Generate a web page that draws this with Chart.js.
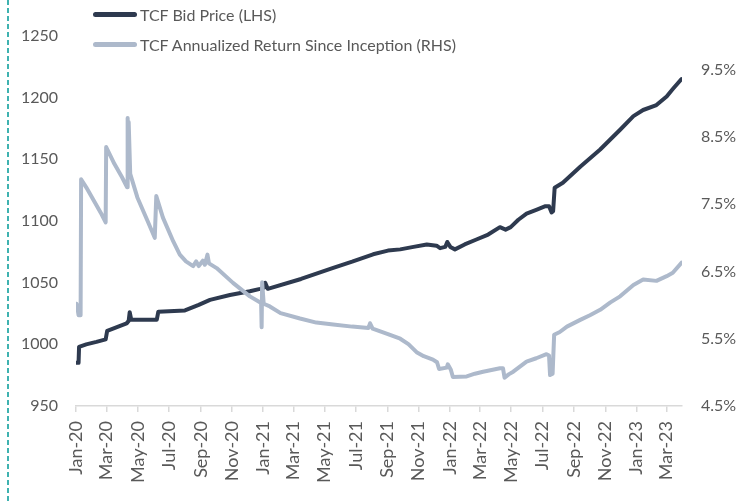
<!DOCTYPE html>
<html><head><meta charset="utf-8">
<script src="https://cdn.jsdelivr.net/npm/chart.js@4/dist/chart.umd.min.js"></script>
<style>
html,body{margin:0;padding:0;background:#fff;}
#wrap{position:relative;width:753px;height:502px;overflow:hidden;}
#c{position:absolute;left:0;top:0;}
.dash{position:absolute;left:7px;top:0;width:2px;height:502px;background:repeating-linear-gradient(to bottom,#3fb2b0 0 5px,transparent 5px 8px);}
.leg{position:absolute;left:93px;height:20px;font:16px Lato, sans-serif;color:#595959;display:flex;align-items:center;white-space:nowrap;}
.leg .sw{display:inline-block;width:44px;height:5px;border-radius:3px;margin-right:3px;}
</style></head>
<body><div id="wrap"><canvas id="c" width="753" height="502"></canvas><div class="dash"></div></div>
<script>
// ---- data ----
const seriesNames = ['TCF Bid Price (LHS)', 'TCF Annualized Return Since Inception (RHS)'];

const bidDates = ['2020-01-02','2020-01-06','2020-01-07','2020-01-21','2020-02-10','2020-02-28','2020-03-02','2020-03-21','2020-04-09','2020-04-13','2020-04-15','2020-04-18','2020-06-07','2020-06-10','2020-08-01','2020-08-28','2020-09-19','2020-10-28','2020-12-06','2020-12-26','2021-01-03','2021-01-05','2021-01-10','2021-03-16','2021-05-18','2021-06-24','2021-08-04','2021-09-02','2021-09-26','2021-10-22','2021-11-17','2021-12-06','2021-12-13','2021-12-23','2021-12-27','2022-01-02','2022-01-11','2022-01-30','2022-02-22','2022-03-17','2022-04-09','2022-04-20','2022-04-30','2022-05-15','2022-05-31','2022-06-19','2022-07-07','2022-07-14','2022-07-19','2022-07-22','2022-07-25','2022-08-10','2022-09-13','2022-10-22','2022-11-30','2022-12-26','2023-01-14','2023-02-09','2023-03-01','2023-03-13','2023-03-30'];
const bidPrices = [985,985,998,1000,1002,1004,1011,1014,1017,1019,1026,1020,1020,1026.5,1027.5,1032,1036,1040,1043,1045,1046,1050,1045,1053,1062,1067,1073,1076,1077,1079,1081,1080,1078,1079,1083,1079,1077,1081,1085,1089,1095,1093,1095,1101,1106,1109,1112,1112,1107,1108,1127,1131,1144,1158,1174,1185,1190,1194,1201,1207,1215];

const retDates = ['2020-01-02','2020-01-04','2020-01-06','2020-01-10','2020-01-11','2020-01-21','2020-02-05','2020-02-20','2020-02-28','2020-02-29','2020-03-16','2020-03-31','2020-04-10','2020-04-11','2020-04-12','2020-04-13','2020-04-16','2020-04-30','2020-05-20','2020-06-03','2020-06-06','2020-06-19','2020-07-09','2020-07-22','2020-08-03','2020-08-17','2020-08-23','2020-08-28','2020-09-05','2020-09-09','2020-09-14','2020-09-17','2020-10-02','2020-11-03','2020-12-06','2020-12-28','2020-12-29','2020-12-30','2021-01-02','2021-01-14','2021-02-04','2021-03-14','2021-04-15','2021-05-18','2021-06-24','2021-07-26','2021-07-29','2021-08-03','2021-09-02','2021-09-26','2021-10-12','2021-10-28','2021-11-11','2021-11-29','2021-12-07','2021-12-11','2021-12-26','2021-12-28','2022-01-03','2022-01-07','2022-02-03','2022-02-19','2022-03-07','2022-04-09','2022-04-15','2022-04-18','2022-04-26','2022-05-05','2022-05-31','2022-06-19','2022-07-09','2022-07-14','2022-07-16','2022-07-21','2022-07-24','2022-08-04','2022-08-18','2022-09-13','2022-10-02','2022-10-22','2022-11-11','2022-11-30','2022-12-26','2023-01-14','2023-02-09','2023-03-01','2023-03-13','2023-03-30'];
const retValues = [6.02,5.95,5.85,5.85,7.87,7.75,7.55,7.35,7.23,8.35,8.1,7.9,7.75,8.78,8.2,8.72,7.95,7.6,7.25,7.0,7.62,7.3,6.95,6.75,6.65,6.58,6.65,6.58,6.66,6.6,6.75,6.62,6.55,6.33,6.13,6.03,5.67,6.34,6.02,5.98,5.88,5.8,5.74,5.71,5.68,5.66,5.73,5.65,5.57,5.5,5.42,5.3,5.24,5.19,5.15,5.05,5.07,5.12,5.04,4.93,4.94,4.98,5.01,5.06,5.06,4.92,4.97,5.01,5.16,5.21,5.27,5.25,4.96,4.98,5.56,5.6,5.68,5.78,5.85,5.93,6.04,6.13,6.3,6.38,6.36,6.43,6.48,6.63];

const xTickDates = ['2020-01-01','2020-03-01','2020-05-01','2020-07-01','2020-09-01','2020-11-01','2021-01-01','2021-03-01','2021-05-01','2021-07-01','2021-09-01','2021-11-01','2022-01-01','2022-03-01','2022-05-01','2022-07-01','2022-09-01','2022-11-01','2023-01-01','2023-03-01'];
const xTickLabels = ['Jan-20','Mar-20','May-20','Jul-20','Sep-20','Nov-20','Jan-21','Mar-21','May-21','Jul-21','Sep-21','Nov-21','Jan-22','Mar-22','May-22','Jul-22','Sep-22','Nov-22','Jan-23','Mar-23'];
const leftTicks = [950,1000,1050,1100,1150,1200,1250];
const rightTicks = [4.5,5.5,6.5,7.5,8.5,9.5];
const xStart = '2020-01-01', xEnd = '2023-03-31';

// ---- helpers ----
function dayOf(s){const [y,m,d]=s.split('-').map(Number);return (Date.UTC(y,m-1,d)-Date.UTC(2020,0,1))/86400000;}
const bidData = bidDates.map((d,i)=>({x:dayOf(d), y:bidPrices[i]}));
const retData = retDates.map((d,i)=>({x:dayOf(d), y:retValues[i]}));

const colors = ['#2e3a4f', '#adb9cb'];
const FONT = 'Lato, sans-serif';
const TXT = '#595959';

// legend (HTML text)
const wrap = document.getElementById('wrap');
[4,34].forEach((top,i)=>{
  const el=document.createElement('div'); el.className='leg'; el.style.top=top+'px';
  const sw=document.createElement('span'); sw.className='sw'; sw.style.background=colors[i];
  el.appendChild(sw); el.appendChild(document.createTextNode(seriesNames[i]));
  wrap.appendChild(el);
});

new Chart(document.getElementById('c'), {
  type:'line',
  data:{datasets:[
    {label:seriesNames[0], data:bidData, yAxisID:'y', borderColor:colors[0], borderWidth:4, pointRadius:0, tension:0, borderJoinStyle:'round', borderCapStyle:'round', order:1},
    {label:seriesNames[1], data:retData, yAxisID:'y1', borderColor:colors[1], borderWidth:4, pointRadius:0, tension:0, borderJoinStyle:'round', borderCapStyle:'round', order:0}
  ]},
  options:{
    responsive:false, animation:false, devicePixelRatio:1,
    layout:{padding:{top:36,left:0,right:0,bottom:0}},
    plugins:{legend:{display:false}, tooltip:{enabled:false}},
    scales:{
      x:{type:'linear', min:dayOf(xStart), max:dayOf(xEnd),
        afterBuildTicks:s=>{s.ticks=xTickDates.map(d=>({value:dayOf(d)}));},
        afterFit:s=>{s.height=96;},
        ticks:{autoSkip:false, minRotation:90, maxRotation:90, padding:9, color:TXT, font:{family:FONT,size:18},
          callback:(v,i)=>xTickLabels[i]},
        grid:{drawOnChartArea:false, drawTicks:true, tickLength:6, color:'#d9d9d9', lineWidth:1.5},
        border:{display:true, color:'#d9d9d9', width:1.5}
      },
      y:{position:'left', min:950, max:1250,
        afterBuildTicks:s=>{s.ticks=leftTicks.map(v=>({value:v}));},
        afterFit:s=>{s.width=76;},
        ticks:{padding:18, color:TXT, font:{family:FONT,size:16}, callback:v=>String(v)},
        grid:{display:false, drawTicks:false}, border:{display:false}
      },
      y1:{position:'right', min:4.5, max:10,
        afterBuildTicks:s=>{s.ticks=rightTicks.map(v=>({value:v}));},
        afterFit:s=>{s.width=71;},
        ticks:{padding:19, color:TXT, font:{family:FONT,size:16}, callback:v=>v.toFixed(1)+'%'},
        grid:{display:false, drawTicks:false}, border:{display:false}
      }
    }
  }
});
</script>
</body></html>
